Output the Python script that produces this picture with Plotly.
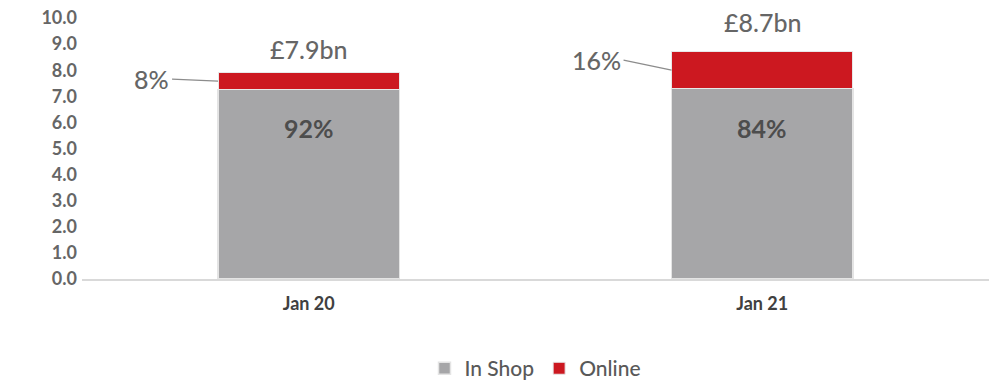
import plotly.graph_objects as go

# Monthly spend split by channel
categories = ["Jan 20", "Jan 21"]
totals_bn = [7.9, 8.7]
in_shop_share = [92, 84]
online_share = [8, 16]
y_ticks = [0, 1, 2, 3, 4, 5, 6, 7, 8, 9, 10]

in_shop = [t * s / 100 for t, s in zip(totals_bn, in_shop_share)]
online = [t * s / 100 for t, s in zip(totals_bn, online_share)]

GREY = "#A6A6A8"
RED = "#CC1820"
TEXT = "#666666"
FONT = "Lato"
BAR_FRAC = 0.4

fig = go.Figure()
fig.add_trace(go.Bar(
    name="In Shop", x=categories, y=in_shop,
    marker=dict(color=GREY, line=dict(color="#E4E4E4", width=1.5)),
    hoverinfo="skip",
))
fig.add_trace(go.Bar(
    name="Online", x=categories, y=online,
    marker=dict(color=RED, line=dict(color="#E8E8E8", width=1)),
    hoverinfo="skip",
))

annotations = []
# In-shop share inside the grey bar
for c, s in zip(categories, in_shop_share):
    annotations.append(dict(
        x=c, y=5.8, xref="x", yref="y", text=f"{s}%", showarrow=False,
        font=dict(family=FONT, size=25, color="#4D4D4D", weight="bold"),
    ))
# Totals above each stack
for c, t, ys in zip(categories, totals_bn, [7, 13]):
    annotations.append(dict(
        x=c, y=t, xref="x", yref="y", text=f"£{t}bn", showarrow=False,
        yanchor="bottom", yshift=ys,
        font=dict(family=FONT, size=25, color=TEXT, weight=500),
    ))
# Online share called out to the left of each stack with a leader line
leader = [(-46, -2), (-48, -10)]
for i, (s, ins, onl, (ax, ay)) in enumerate(zip(online_share, in_shop, online, leader)):
    annotations.append(dict(
        x=i - BAR_FRAC / 2, y=ins + onl / 2, xref="x", yref="y",
        text=f"{s}%", showarrow=True, arrowhead=0, arrowwidth=1.2,
        arrowcolor="#8C8C8C", ax=ax, ay=ay,
        xanchor="right", standoff=0, borderpad=2,
        font=dict(family=FONT, size=25, color=TEXT, weight=500),
    ))

fig.update_layout(
    width=997, height=380,
    margin=dict(l=82, r=8, t=18, b=101, autoexpand=False),
    barmode="stack", bargap=1 - BAR_FRAC,
    plot_bgcolor="white", paper_bgcolor="white",
    font=dict(family=FONT, color=TEXT),
    annotations=annotations,
    legend=dict(
        orientation="h", x=0.5, xanchor="center",
        yref="container", y=0.03, yanchor="middle",
        font=dict(family=FONT, size=21, color="#595959", weight=500),
        itemwidth=30, traceorder="normal",
    ),
    showlegend=True,
)
fig.update_xaxes(
    showline=True, linecolor="#D9D9D9", linewidth=1.5, ticks="",
    tickfont=dict(family=FONT, size=18, color="#404040", weight="bold"),
    ticklabelstandoff=8,
    showgrid=False, automargin=False,
)
fig.update_yaxes(
    range=[0, 10], tickvals=y_ticks,
    ticktext=[f"{v:.1f}" for v in y_ticks],
    tickfont=dict(family=FONT, size=18, color=TEXT, weight="bold"),
    ticklabelstandoff=4,
    showgrid=False, zeroline=False, showline=False, ticklen=0,
    automargin=False,
)

fig.write_html("out.html")
